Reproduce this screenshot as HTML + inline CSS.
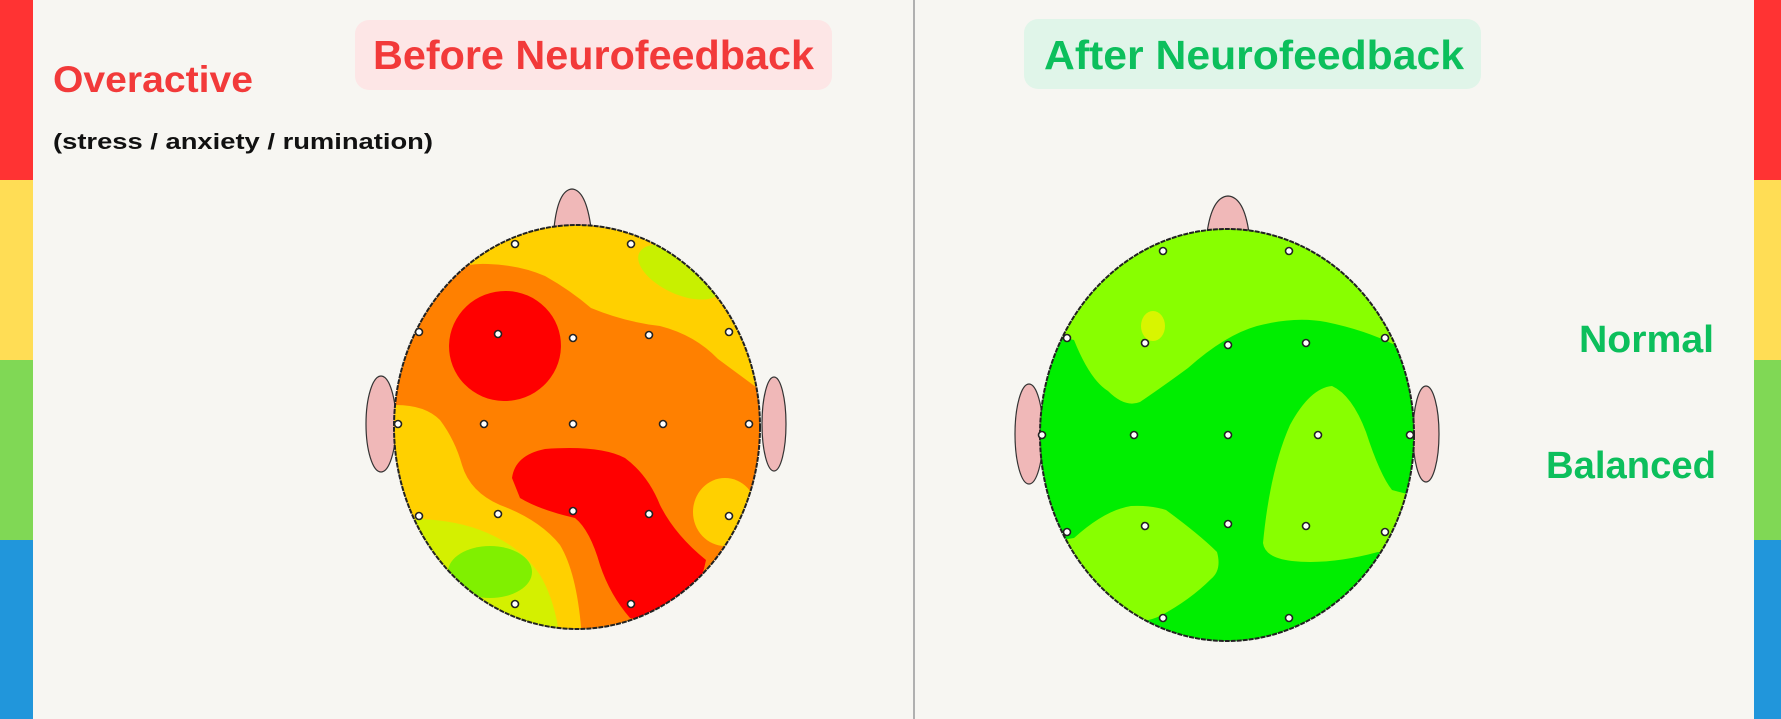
<!DOCTYPE html>
<html><head><meta charset="utf-8"><style>
html,body{margin:0;padding:0;background:#f7f6f2;}
svg{display:block;}
text{font-family:"Liberation Sans",sans-serif;font-weight:bold;}
</style></head><body>
<svg width="1781" height="719" viewBox="0 0 1781 719" xmlns="http://www.w3.org/2000/svg">
<rect width="1781" height="719" fill="#f7f6f2"/>
<!-- left bar -->
<rect x="0" y="0" width="33" height="180" fill="#ff3333"/>
<rect x="0" y="180" width="33" height="180" fill="#ffdd55"/>
<rect x="0" y="360" width="33" height="180" fill="#80d855"/>
<rect x="0" y="540" width="33" height="179" fill="#2196db"/>
<!-- right bar -->
<rect x="1754" y="0" width="27" height="180" fill="#ff3333"/>
<rect x="1754" y="180" width="27" height="180" fill="#ffdd55"/>
<rect x="1754" y="360" width="27" height="180" fill="#80d855"/>
<rect x="1754" y="540" width="27" height="179" fill="#2196db"/>
<!-- divider -->
<rect x="913" y="0" width="2" height="719" fill="#b0b0b0"/>

<!-- pills -->
<rect x="355" y="20" width="477" height="70" rx="14" fill="#fde6e6"/>
<text x="373" y="69" font-size="41" fill="#f23a3a" textLength="441" lengthAdjust="spacingAndGlyphs">Before Neurofeedback</text>
<rect x="1024" y="19" width="457" height="70" rx="14" fill="#e0f5e9"/>
<text x="1044" y="69" font-size="41" fill="#0cbf5c" textLength="420" lengthAdjust="spacingAndGlyphs">After Neurofeedback</text>

<text x="53" y="92" font-size="37" fill="#f23a3a" textLength="200" lengthAdjust="spacingAndGlyphs">Overactive</text>
<text x="53" y="149" font-size="22" fill="#111" textLength="380" lengthAdjust="spacingAndGlyphs">(stress / anxiety / rumination)</text>
<text x="1579" y="352" font-size="38" fill="#0cbf5c" textLength="135" lengthAdjust="spacingAndGlyphs">Normal</text>
<text x="1546" y="478" font-size="38" fill="#0cbf5c" textLength="170" lengthAdjust="spacingAndGlyphs">Balanced</text>

<defs>
<clipPath id="cl"><ellipse cx="577" cy="427" rx="183" ry="202"/></clipPath>
<clipPath id="cr"><ellipse cx="1227" cy="435" rx="187" ry="206"/></clipPath>
</defs>

<!-- LEFT HEAD -->
<path d="M554,228 Q558,190 572,189 Q586,190 591,228 Z" fill="#f0b8b8" stroke="#333" stroke-width="1.2"/>
<ellipse cx="381" cy="424" rx="15" ry="48" fill="#f0b8b8" stroke="#333" stroke-width="1.2"/>
<ellipse cx="774" cy="424" rx="12" ry="47" fill="#f0b8b8" stroke="#333" stroke-width="1.2"/>
<g clip-path="url(#cl)">
<rect x="390" y="220" width="380" height="420" fill="#ff8000"/>
<path d="M380,220 L380,300 L425,285 Q455,262 488,264 Q520,265 545,276 Q570,290 591,308 Q625,322 660,326 Q695,335 718,359 L760,390 L780,220 Z" fill="#ffd000"/>
<ellipse cx="680" cy="272" rx="45" ry="22" fill="#c8f000" transform="rotate(25 680 272)"/>
<path d="M380,405 L396,405 Q425,405 440,420 Q455,440 462,465 Q470,492 500,505 Q540,520 560,545 Q578,575 582,640 L380,640 Z" fill="#ffd000"/>
<path d="M380,520 Q440,515 480,530 Q520,545 540,575 Q555,600 560,640 L380,640 Z" fill="#d4f000"/>
<ellipse cx="490" cy="572" rx="42" ry="26" fill="#80f000"/>
<ellipse cx="725" cy="512" rx="32" ry="34" fill="#ffd000"/>
<ellipse cx="505" cy="346" rx="56" ry="55" fill="#ff0000" transform="rotate(-10 505 346)"/>
<path d="M512,478 Q515,455 545,449 Q600,445 625,458 Q648,475 660,505 Q675,535 706,560 Q700,590 685,605 Q660,625 630,618 Q610,595 600,565 Q590,530 575,518 Q540,510 520,498 Z" fill="#ff0000"/>
</g>
<ellipse cx="577" cy="427" rx="183" ry="202" fill="none" stroke="#222" stroke-width="2" stroke-dasharray="5 1"/>
<g fill="#fff" stroke="#222" stroke-width="1.6">
<circle cx="515" cy="244" r="3.5"/><circle cx="631" cy="244" r="3.5"/>
<circle cx="419" cy="332" r="3.5"/><circle cx="498" cy="334" r="3.5"/><circle cx="573" cy="338" r="3.5"/><circle cx="649" cy="335" r="3.5"/><circle cx="729" cy="332" r="3.5"/>
<circle cx="398" cy="424" r="3.5"/><circle cx="484" cy="424" r="3.5"/><circle cx="573" cy="424" r="3.5"/><circle cx="663" cy="424" r="3.5"/><circle cx="749" cy="424" r="3.5"/>
<circle cx="419" cy="516" r="3.5"/><circle cx="498" cy="514" r="3.5"/><circle cx="573" cy="511" r="3.5"/><circle cx="649" cy="514" r="3.5"/><circle cx="729" cy="516" r="3.5"/>
<circle cx="515" cy="604" r="3.5"/><circle cx="631" cy="604" r="3.5"/>
</g>

<!-- RIGHT HEAD -->
<path d="M1207,233 Q1212,197 1228,196 Q1244,197 1249,233 Z" fill="#f0b8b8" stroke="#333" stroke-width="1.2"/>
<ellipse cx="1029" cy="434" rx="14" ry="50" fill="#f0b8b8" stroke="#333" stroke-width="1.2"/>
<ellipse cx="1426" cy="434" rx="13" ry="48" fill="#f0b8b8" stroke="#333" stroke-width="1.2"/>
<g clip-path="url(#cr)">
<rect x="1030" y="220" width="400" height="430" fill="#00ee00"/>
<path d="M1030,220 L1030,330 L1074,340 Q1090,380 1108,391 Q1125,408 1140,402 Q1165,385 1188,368 Q1225,335 1257,326 Q1295,316 1326,322 Q1365,330 1395,345 L1430,360 L1430,220 Z" fill="#88ff00"/>
<ellipse cx="1153" cy="326" rx="12" ry="15" fill="#d8f500"/>
<path d="M1263,543 Q1270,470 1290,425 Q1310,388 1332,386 Q1352,395 1366,432 Q1380,475 1392,490 L1430,500 L1430,560 Q1390,555 1378,552 Q1330,565 1292,561 Q1265,558 1263,543 Z" fill="#88ff00"/>
<path d="M1030,545 L1074,538 Q1105,510 1131,506 Q1150,505 1166,510 Q1200,535 1217,552 Q1222,570 1211,579 Q1190,600 1160,616 Q1130,630 1091,610 L1030,600 Z" fill="#88ff00"/>
</g>
<ellipse cx="1227" cy="435" rx="187" ry="206" fill="none" stroke="#222" stroke-width="2" stroke-dasharray="5 1"/>
<g fill="#fff" stroke="#222" stroke-width="1.6">
<circle cx="1163" cy="251" r="3.5"/><circle cx="1289" cy="251" r="3.5"/>
<circle cx="1067" cy="338" r="3.5"/><circle cx="1145" cy="343" r="3.5"/><circle cx="1228" cy="345" r="3.5"/><circle cx="1306" cy="343" r="3.5"/><circle cx="1385" cy="338" r="3.5"/>
<circle cx="1042" cy="435" r="3.5"/><circle cx="1134" cy="435" r="3.5"/><circle cx="1228" cy="435" r="3.5"/><circle cx="1318" cy="435" r="3.5"/><circle cx="1410" cy="435" r="3.5"/>
<circle cx="1067" cy="532" r="3.5"/><circle cx="1145" cy="526" r="3.5"/><circle cx="1228" cy="524" r="3.5"/><circle cx="1306" cy="526" r="3.5"/><circle cx="1385" cy="532" r="3.5"/>
<circle cx="1163" cy="618" r="3.5"/><circle cx="1289" cy="618" r="3.5"/>
</g>
</svg>
</body></html>
